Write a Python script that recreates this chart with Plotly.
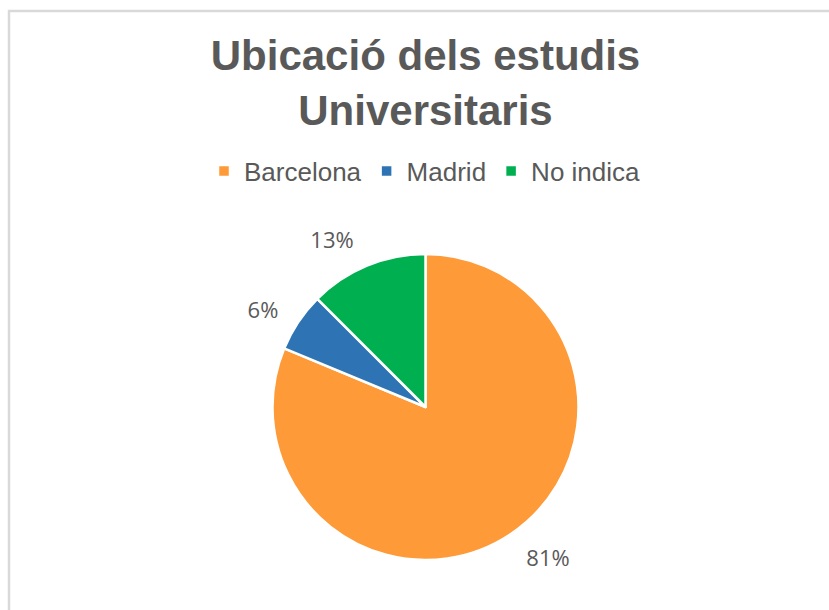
import plotly.graph_objects as go

categories = ["Barcelona", "Madrid", "No indica"]
counts = [13, 1, 2]
colors = ["#FF9A38", "#2E74B5", "#00B050"]
title_lines = ["Ubicació dels estudis", "Universitaris"]

W, H = 829, 610
cx, cy, r = 425.5, 407.0, 153.0
r_lab = 168.0  # radius of the invisible pie that carries the outside labels


def dom(rad):
    return dict(x=[(cx - rad) / W, (cx + rad) / W],
                y=[(H - cy - rad) / H, (H - cy + rad) / H])


fig = go.Figure()
fig.add_trace(go.Pie(
    labels=categories,
    values=counts,
    sort=False,
    direction="clockwise",
    rotation=0,
    marker=dict(colors=colors, line=dict(color="white", width=2.5)),
    textinfo="none",
    domain=dom(r),
    hoverinfo="label+percent",
    automargin=False,
))
fig.add_trace(go.Pie(
    labels=categories,
    values=counts,
    sort=False,
    direction="clockwise",
    rotation=0,
    marker=dict(colors=["rgba(0,0,0,0)"] * len(categories), line=dict(width=0)),
    texttemplate="%{percent:.0%}",
    textposition="outside",
    textfont=dict(family="Open Sans", size=22, color="#595959"),
    domain=dom(r_lab),
    hoverinfo="skip",
    showlegend=False,
    automargin=False,
))

fig.update_layout(
    width=W, height=H,
    margin=dict(l=0, r=0, t=0, b=0),
    paper_bgcolor="white",
    plot_bgcolor="white",
    title=dict(
        text="<b>" + "<br>".join(title_lines) + "</b>",
        x=cx / W, xanchor="center",
        y=1 - 70 / H, yanchor="top",
        font=dict(family="Liberation Sans", size=42, color="#595959"),
    ),
    legend=dict(
        orientation="h",
        x=425 / W, xanchor="center",
        y=1 - 171 / H, yanchor="middle",
        font=dict(family="Liberation Sans", size=26, color="#595959"),
        itemwidth=30,
        traceorder="normal",
    ),
    shapes=[dict(
        type="rect", xref="paper", yref="paper",
        x0=9 / W, x1=1.05, y0=-0.05, y1=1 - 11 / H,
        line=dict(color="#D9D9D9", width=2.5),
        fillcolor="rgba(0,0,0,0)", layer="below",
    )],
)

fig.write_html(
    "out.html",
    config={"displayModeBar": False},
    post_script="document.body.style.margin='0';document.body.style.overflow='hidden';",
)
